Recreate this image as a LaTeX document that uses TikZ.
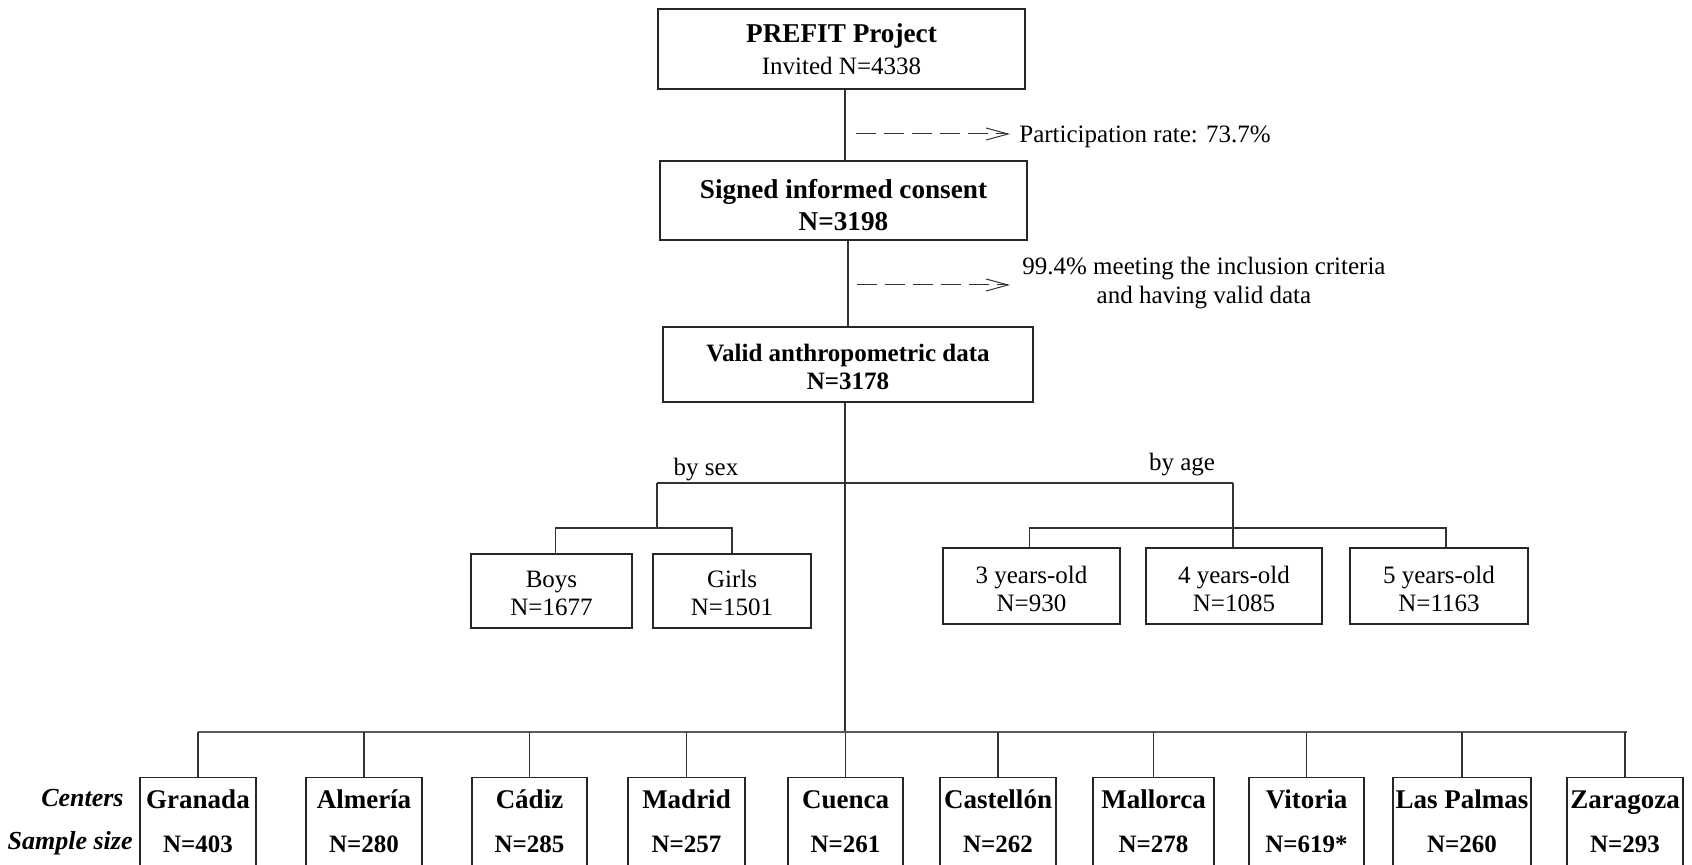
\documentclass[tikz,border=0pt]{standalone}
\usepackage{fontspec}
\setmainfont{Liberation Serif}
\usetikzlibrary{arrows.meta}
\tikzset{
  box/.style={draw=black!85, line width=0.7pt, rectangle, inner sep=0pt},
  txt/.style={inner sep=0pt, align=center, font=\fontsize{12.5}{14}\selectfont},
  cbox/.style={draw=black!85, line width=0.7pt, rectangle, inner sep=0pt, align=center, anchor=north, minimum height=46pt, text depth=2.5pt, font=\fontsize{12.5}{14}\selectfont\bfseries},
  conn/.style={draw=black!80, line width=0.55pt},
  busline/.style={draw=black!65, line width=1pt},
  dasharrow/.style={draw=black!80, line width=0.5pt, dash pattern=on 10pt off 4pt, -{Straight Barb[length=11pt,width=6pt]}},
  lbl/.style={inner sep=0pt, font=\fontsize{12.5}{14}\selectfont},
  side/.style={inner sep=0pt, anchor=east, font=\fontsize{13}{14}\selectfont\bfseries\itshape},
}
\newcommand{\cname}[2]{{\fontsize{13.5}{14}\selectfont #1}\\[8pt]#2}
\begin{document}
\begin{tikzpicture}[x=0.5pt, y=-0.5pt]
\useasboundingbox (0,0) rectangle (1692,865);
\clip (0,0) rectangle (1692,865);

% top chain
\node[box, minimum width=183.5pt, minimum height=40pt] (prefit) at (841.5,49) {};
\node[txt] (prefitt) at (prefit.center)
  {{\fontsize{13.6}{14}\selectfont\bfseries PREFIT Project}\\[2pt]Invited N=4338};
\node[box, minimum width=183.5pt, minimum height=39.5pt] (signed) at (843.5,200.5) {};
\node[txt, font=\fontsize{13.6}{14}\selectfont\bfseries] (signedt) at ([yshift=-2.5pt]signed.center)
  {Signed informed consent\\[2pt]N=3198};
\node[box, minimum width=185pt, minimum height=37.5pt] (valid) at (848,364.5) {};
\node[txt, font=\fontsize{12.5}{14}\selectfont\bfseries] (validt) at ([yshift=-1pt]valid.center)
  {Valid anthropometric data\\N=3178};

\draw[conn] ([xshift=1.75pt]prefit.south) -- ([xshift=1.75pt]prefit.south |- signed.north);
\draw[conn] ([xshift=2.25pt]signed.south) -- ([xshift=2.25pt]signed.south |- valid.north);

% side notes
\coordinate (d1) at (856,134);
\node[lbl, anchor=west] (part) at (1019,137) {Participation rate: 73.7\%};
\draw[dasharrow, shorten >=4.5pt] (d1) -- (d1 -| part.west);
\coordinate (d2) at (857,285);
\node[lbl, anchor=west, align=center, font=\fontsize{12.5}{14.5}\selectfont] (incl) at (1022,283.5)
  {99.4\% meeting the inclusion criteria\\and having valid data};
\draw[dasharrow, shorten >=6pt] (d2) -- (d2 -| incl.west);

% sex / age
\node[lbl] (bysex) at (706,470) {by sex};
\node[lbl] (byage) at (1182,465) {by age};
\node[box, minimum width=80.5pt, minimum height=37pt] (boys) at (551.5,591) {};
\node[txt] (boyst) at ([yshift=-1pt]boys.center) {Boys\\N=1677};
\node[box, minimum width=79pt, minimum height=37pt] (girls) at (732,591) {};
\node[txt] (girlst) at ([yshift=-1pt]girls.center) {Girls\\N=1501};
\node[box, minimum width=88.5pt, minimum height=38pt] (age3) at (1031.5,586) {};
\node[txt] (age3t) at ([yshift=-1.5pt]age3.center) {3 years-old\\N=930};
\node[box, minimum width=88pt, minimum height=38pt] (age4) at (1234,586) {};
\node[txt] (age4t) at ([yshift=-1.5pt]age4.center) {4 years-old\\N=1085};
\node[box, minimum width=89pt, minimum height=38pt] (age5) at (1439,586) {};
\node[txt] (age5t) at ([yshift=-1.5pt]age5.center) {5 years-old\\N=1163};

\coordinate (sexj) at (657,483);
\coordinate (agej) at (1233,483);
\coordinate (sexk) at (657,528);
\coordinate (busc) at (845,732);

\draw[conn] ([xshift=-1.5pt]valid.south) -- ([xshift=-1.5pt]valid.south |- busc);
\draw[conn] (sexj) -- (agej);
\draw[conn] (sexj) -- (sexk);
\draw[conn] ([xshift=2pt]boys.north) |- (sexk) -| (girls.north);
\draw[conn] (agej) -- (agej |- age4.north);
\draw[conn] ([xshift=-1pt]age3.north) |- (agej |- sexk) -| ([xshift=3.5pt]age5.north);

% centers
\node[cbox, minimum width=58pt]   (gra) at (198,777)    {\cname{Granada}{N=403}};
\node[cbox, minimum width=58pt]   (alm) at (364,777)    {\cname{Almería}{N=280}};
\node[cbox, minimum width=57.5pt] (cad) at (529.5,777)  {\cname{Cádiz}{N=285}};
\node[cbox, minimum width=58.5pt] (mad) at (686.5,777)  {\cname{Madrid}{N=257}};
\node[cbox, minimum width=57.5pt] (cue) at (845.5,777)  {\cname{Cuenca}{N=261}};
\node[cbox, minimum width=58pt]   (cas) at (998,777)    {\cname{Castellón}{N=262}};
\node[cbox, minimum width=60.5pt] (mal) at (1153.5,777) {\cname{Mallorca}{N=278}};
\node[cbox, minimum width=57.5pt] (vit) at (1306.5,777) {\cname{Vitoria}{N=619*}};
\node[cbox, minimum width=69pt]   (lpa) at (1462,777)   {\cname{Las Palmas}{N=260}};
\node[cbox, minimum width=58pt]   (zar) at (1625,777)   {\cname{Zaragoza}{N=293}};

\draw[busline] (gra.north |- busc) -- ([xshift=1pt]zar.north |- busc);
\foreach \n in {gra,alm,cad,mad,cue,cas,mal,vit,lpa,zar}
  \draw[conn] (\n.north) -- (\n.north |- busc);

\node[side] (centers) at (124,798) {Centers};
\node[side] (ssize) at (133,843) {Sample size};
\end{tikzpicture}
\end{document}
